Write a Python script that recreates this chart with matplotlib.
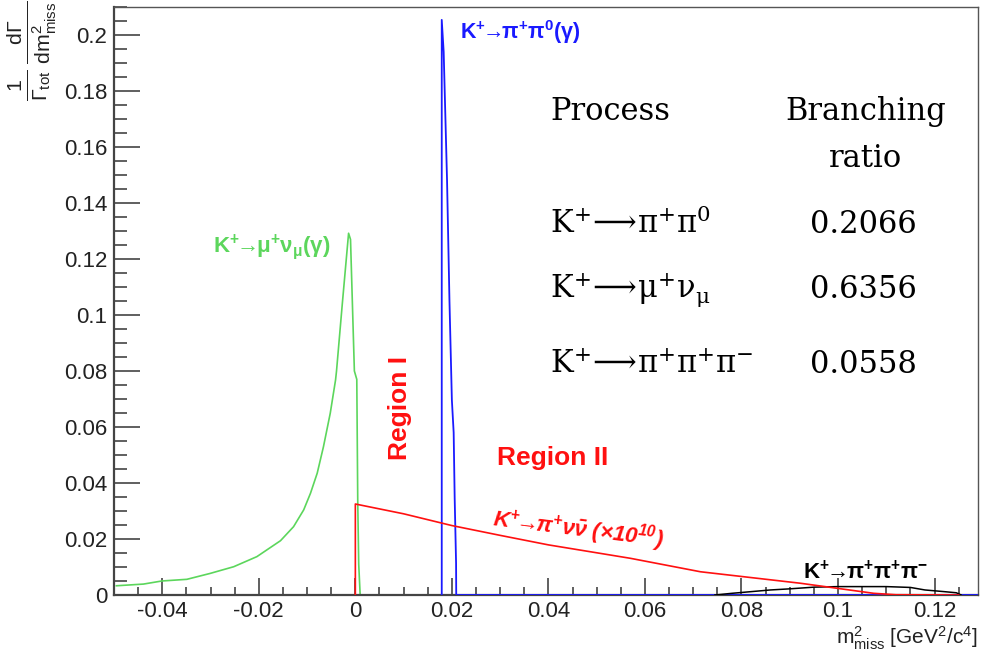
import matplotlib
matplotlib.use("Agg")
import matplotlib.pyplot as plt
from matplotlib.ticker import MultipleLocator, FuncFormatter

# --- data --------------------------------------------------------------
# K+ -> mu+ nu (gamma): radiative tail and peak just below zero
green_x = [-0.0495, -0.0439, -0.0401, -0.0349, -0.0301, -0.0252, -0.0204,
           -0.0155, -0.0128, -0.0107, -0.0093, -0.0079, -0.0066, -0.0052,
           -0.0041, -0.0039, -0.0027, -0.0014, -0.0010, -0.0002, 0.0003,
           0.0005, 0.0007, 0.0010, 0.129]
green_y = [0.0033, 0.0039, 0.0050, 0.0056, 0.0077, 0.0101, 0.0137,
           0.0194, 0.0244, 0.0304, 0.0363, 0.0435, 0.0530, 0.0649,
           0.0768, 0.0800, 0.1040, 0.1292, 0.1270, 0.0800, 0.0770,
           0.0330, 0.0110, 0.0, 0.0]

# K+ -> pi+ pi0 (gamma): narrow spike at m(pi0)^2
blue_x = [0.0179, 0.0179, 0.0183, 0.01865, 0.0190, 0.0195, 0.0200,
          0.02037, 0.02058, 0.02087, 0.0209, 0.129]
blue_y = [0.0, 0.2054, 0.194, 0.171, 0.148, 0.105, 0.0696,
          0.058, 0.0346, 0.0114, 0.0, 0.0]

# K+ -> pi+ nu nubar (x 1e10)
red_x = [0.0, 0.0, 0.010, 0.020, 0.030, 0.040, 0.057,
         0.0715, 0.0922, 0.0998, 0.1074, 0.112, 0.125]
red_y = [0.0, 0.0325, 0.0290, 0.0248, 0.0213, 0.0179, 0.0131,
         0.0083, 0.0042, 0.0024, 0.0006, 0.0001, 0.0]

# K+ -> pi+ pi+ pi-
black_x = [0.0745, 0.078, 0.082, 0.086, 0.090, 0.095, 0.100, 0.105,
           0.110, 0.115, 0.118, 0.122, 0.1245, 0.1255]
black_y = [0.0, 0.0006, 0.0012, 0.0018, 0.0022, 0.0028, 0.0030, 0.0030,
           0.0030, 0.0027, 0.0018, 0.0012, 0.0008, 0.0]

table_header = ["Process", "Branching", "ratio"]
table_procs = [r"K$^{+}\!\longrightarrow\!\mathrm{\pi}^{+}\mathrm{\pi}^{0}$",
               r"K$^{+}\!\longrightarrow\!\mathrm{\mu}^{+}\mathrm{\nu}_{\mathrm{\mu}}$",
               r"K$^{+}\!\longrightarrow\!\mathrm{\pi}^{+}\mathrm{\pi}^{+}\mathrm{\pi}^{-}$"]
table_br = ["0.2066", "0.6356", "0.0558"]

# --- style -------------------------------------------------------------
plt.rcParams['font.family'] = ['Liberation Sans', 'DejaVu Sans']
plt.rcParams['mathtext.fontset'] = 'custom'
plt.rcParams['mathtext.rm'] = 'Liberation Sans'
plt.rcParams['mathtext.it'] = 'Liberation Sans:italic'
plt.rcParams['mathtext.bf'] = 'Liberation Sans:bold'
plt.rcParams['mathtext.bfit'] = 'Liberation Sans:italic:bold'

GREEN = '#5cd65c'
BLUE = '#1a1aff'
RED = '#ff1010'
AXC = '#444444'

fig = plt.figure(figsize=(9.82, 6.51), dpi=100)
ax = fig.add_axes([114 / 982, 56 / 651, 864 / 982, 588 / 651])

ax.plot(green_x, green_y, color=GREEN, lw=1.2, zorder=2)
ax.plot(blue_x, blue_y, color=BLUE, lw=1.3, zorder=3)
ax.plot(black_x, black_y, color='black', lw=1.1, zorder=4)
ax.plot(red_x, red_y, color=RED, lw=1.2, zorder=5)

ax.set_xlim(-0.05, 0.129)
ax.set_ylim(0, 0.21)

ax.xaxis.set_major_locator(MultipleLocator(0.02))
ax.xaxis.set_minor_locator(MultipleLocator(0.005))
ax.yaxis.set_major_locator(MultipleLocator(0.02))
ax.yaxis.set_minor_locator(MultipleLocator(0.005))
fmt = FuncFormatter(lambda v, p: "0" if abs(v) < 1e-9 else ("%g" % round(v, 4)))
ax.xaxis.set_major_formatter(fmt)
ax.yaxis.set_major_formatter(fmt)

ax.tick_params(axis='both', which='both', direction='in', top=False, right=False,
               color=AXC, labelcolor='#222222', labelsize=16, width=1.2)
ax.tick_params(axis='y', which='major', length=19, pad=5)
ax.tick_params(axis='y', which='minor', length=9.5)
ax.tick_params(axis='x', which='major', length=12, pad=4)
ax.tick_params(axis='x', which='minor', length=6)

for side in ['left', 'bottom']:
    ax.spines[side].set_color(AXC)
    ax.spines[side].set_linewidth(1.6)
for side in ['top', 'right']:
    ax.spines[side].set_color('#555555')
    ax.spines[side].set_linewidth(1.0)

# axis titles
fig.text(32 / 982, 1 - 1 / 651,
         r'$\mathrm{\frac{1}{\Gamma_{tot}}\,\frac{d\Gamma}{dm^{2}_{miss}}}$',
         rotation=90, ha='center', va='top', fontsize=22, color='#222222')
fig.text(978 / 982, 1 - 644 / 651,
         r'$\mathrm{m^{2}_{miss}}$ [GeV$^{2}$/c$^{4}$]',
         ha='right', va='baseline', fontsize=15, color='#222222')

# curve labels
ARW = r'\!\!\rightarrow\!\!'
ax.text(0.0217, 0.201, r'$\mathbf{K^{+}' + ARW + r'\pi^{+}\pi^{0}(\gamma)}$',
        color=BLUE, fontsize=15.5, va='center', ha='left')
ax.text(-0.0294, 0.124, r'$\mathbf{K^{+}' + ARW + r'\mu^{+}\nu_{\mu}(\gamma)}$',
        color=GREEN, fontsize=16, va='center', ha='left')
ax.text(0.0093, 0.0668, 'Region I', color=RED, fontsize=19, fontweight='bold',
        rotation=90, ha='center', va='center')
ax.text(0.0294, 0.049, 'Region II', color=RED, fontsize=19, fontweight='bold',
        ha='left', va='center')
ax.text(0.0462, 0.0235, r'$\mathbfit{K^{+}' + ARW + r'\pi^{+}\nu\bar{\nu}\ (\times10^{10})}$',
        color=RED, fontsize=16, rotation=-7, ha='center', va='center',
        rotation_mode='anchor')
ax.text(0.0928, 0.0082, r'$\mathbf{K^{+}' + ARW + r'\pi^{+}\pi^{+}\pi^{-}}$',
        color='black', fontsize=16, ha='left', va='center')

# branching ratio table
tkw = dict(fontsize=22, family='DejaVu Serif', math_fontfamily='dejavuserif',
           color='black', va='baseline')
ax.text(0.0404, 0.1696, table_header[0], ha='left', **tkw)
ax.text(0.1057, 0.1696, table_header[1], ha='center', **tkw)
ax.text(0.1057, 0.1529, table_header[2], ha='center', **tkw)
row_y = [0.1293, 0.1061, 0.0793]
for proc, br, yy in zip(table_procs, table_br, row_y):
    ax.text(0.0404, yy, proc, ha='left', **tkw)
    ax.text(0.1053, yy, br, ha='center', **tkw)

fig.savefig('out.png', dpi=100)
